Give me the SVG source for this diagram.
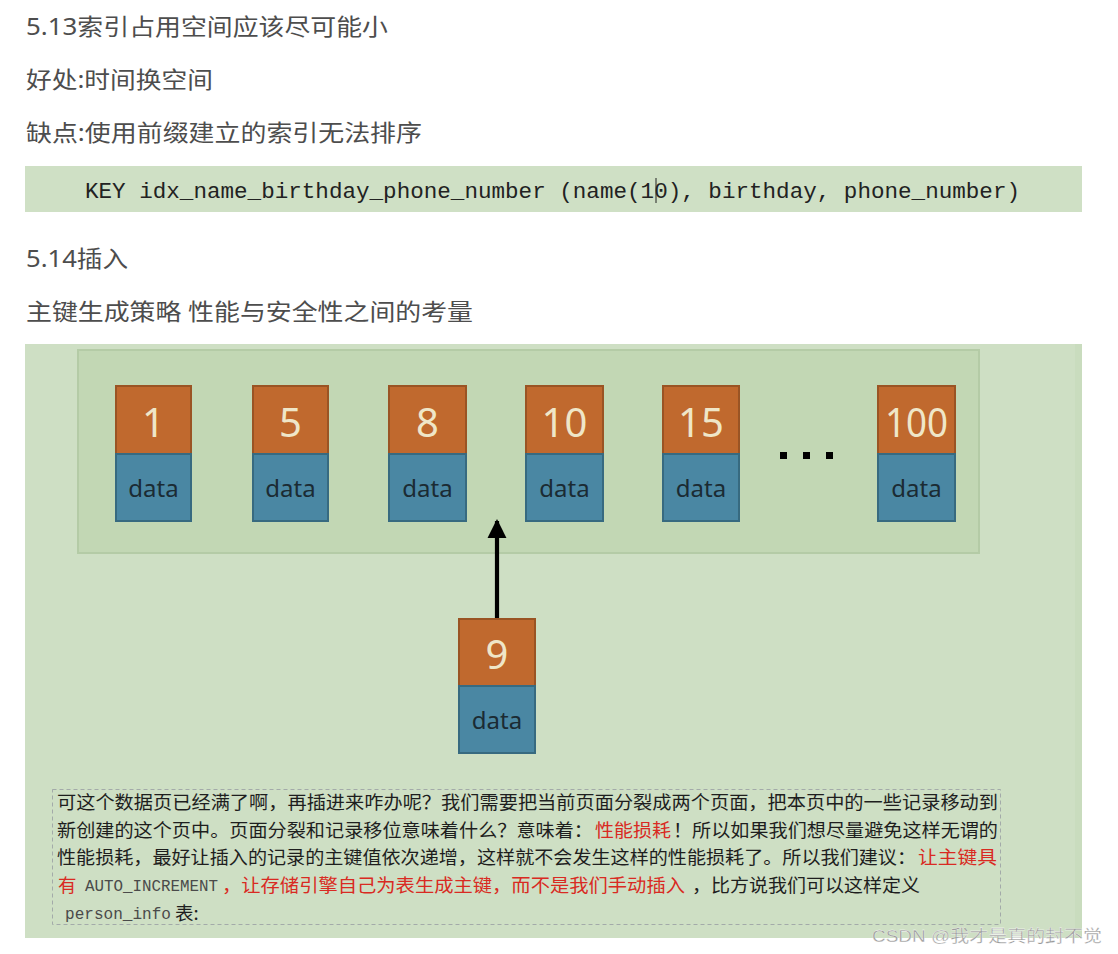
<svg xmlns="http://www.w3.org/2000/svg" width="1118" height="954" viewBox="0 0 1118 954">
<style>
.h{font-family:"Noto Sans","Noto Sans CJK SC",sans-serif;font-size:23px;fill:#4d4d4d}
.code{font-family:"Liberation Mono","Noto Sans CJK SC",monospace;font-size:22px;fill:#222}
.key{fill:#c0692e;stroke:#9a5424;stroke-width:2}
.val{fill:#4a87a3;stroke:#376a80;stroke-width:2}
.num{font-family:"Noto Sans",sans-serif;font-size:40px;fill:#efe6c8;text-anchor:middle}
.dt{font-family:"Noto Sans",sans-serif;font-size:24px;fill:#1b2b33;text-anchor:middle}
.t{font-family:"Noto Sans CJK SC","Noto Sans",sans-serif;font-size:18.5px;fill:#1e1e1e}
.r{fill:#d92a22}
.m{font-family:"Liberation Mono","Noto Sans CJK SC",monospace;font-size:17px;fill:#4a4a4a}
</style>
<defs>
<marker id="ah" viewBox="0 0 10 10" refX="9" refY="5" markerWidth="4.6" markerHeight="4.6" markerUnits="strokeWidth" orient="auto">
<path d="M0,0 L10,5 L0,10 Z" fill="#000"/>
</marker>
</defs>
<rect width="1118" height="954" fill="#ffffff"/>
<g id="headings">
<text class="h" x="26" y="35" textLength="362" lengthAdjust="spacingAndGlyphs">5.13索引占用空间应该尽可能小</text>
<text class="h" x="26" y="88" textLength="187" lengthAdjust="spacingAndGlyphs">好处:时间换空间</text>
<text class="h" x="26" y="141" textLength="396" lengthAdjust="spacingAndGlyphs">缺点:使用前缀建立的索引无法排序</text>
</g>
<g id="code-band">
<rect x="25" y="166" width="1057" height="46" fill="#cfe0c5"/>
<text class="code" x="85" y="198" textLength="935" lengthAdjust="spacingAndGlyphs">KEY idx_name_birthday_phone_number (name(10), birthday, phone_number)</text>
<line x1="656" y1="178" x2="656" y2="203" stroke="#222" stroke-width="1"/>
</g>
<g id="headings2">
<text class="h" x="26" y="267" textLength="102" lengthAdjust="spacingAndGlyphs">5.14插入</text>
<text class="h" x="26" y="320" textLength="447" lengthAdjust="spacingAndGlyphs">主键生成策略 性能与安全性之间的考量</text>
</g>
<g id="panel">
<rect x="25" y="344" width="1057" height="594" fill="#cedfc4"/>
<rect x="1075" y="344" width="7" height="594" fill="#c9dcbe"/>
<rect x="78" y="350" width="901" height="203" fill="#c2d7b4" stroke="#b4cba6" stroke-width="2"/>
</g>
<g id="rec-1">
<rect class="key" x="116" y="386" width="75" height="68"/><rect class="val" x="116" y="454" width="75" height="67"/>
<text class="num" x="153.5" y="437">1</text><text class="dt" x="153.5" y="497">data</text>
</g>
<g id="rec-5">
<rect class="key" x="253" y="386" width="75" height="68"/><rect class="val" x="253" y="454" width="75" height="67"/>
<text class="num" x="290.5" y="437">5</text><text class="dt" x="290.5" y="497">data</text>
</g>
<g id="rec-8">
<rect class="key" x="389" y="386" width="77" height="68"/><rect class="val" x="389" y="454" width="77" height="67"/>
<text class="num" x="427.5" y="437">8</text><text class="dt" x="427.5" y="497">data</text>
</g>
<g id="rec-10">
<rect class="key" x="526" y="386" width="77" height="68"/><rect class="val" x="526" y="454" width="77" height="67"/>
<text class="num" x="564.5" y="437">10</text><text class="dt" x="564.5" y="497">data</text>
</g>
<g id="rec-15">
<rect class="key" x="663" y="386" width="76" height="68"/><rect class="val" x="663" y="454" width="76" height="67"/>
<text class="num" x="701" y="437">15</text><text class="dt" x="701" y="497">data</text>
</g>
<g id="ellipsis">
<rect x="780" y="452" width="7" height="7" fill="#000"/>
<rect x="803" y="452" width="7" height="7" fill="#000"/>
<rect x="826" y="452" width="7" height="7" fill="#000"/>
</g>
<g id="rec-100">
<rect class="key" x="878" y="386" width="77" height="68"/><rect class="val" x="878" y="454" width="77" height="67"/>
<text class="num" x="916.5" y="437" textLength="63" lengthAdjust="spacingAndGlyphs">100</text><text class="dt" x="916.5" y="497">data</text>
</g>
<g id="rec-9">
<rect class="key" x="459" y="619" width="76" height="67"/><rect class="val" x="459" y="686" width="76" height="67"/>
<text class="num" x="497" y="669">9</text><text class="dt" x="497" y="729">data</text>
</g>
<g id="connectors">
<line x1="497" y1="618" x2="497" y2="521" stroke="#000" stroke-width="4.2" marker-end="url(#ah)"/>
</g>
<g id="note">
<rect x="52.5" y="789.5" width="948" height="135" fill="none" stroke="#a3aaa9" stroke-width="1" stroke-dasharray="4,3"/>
<text class="t" x="57" y="809" textLength="941" lengthAdjust="spacingAndGlyphs">可这个数据页已经满了啊，再插进来咋办呢？我们需要把当前页面分裂成两个页面，把本页中的一些记录移动到</text>
<text class="t" x="57" y="837" textLength="536" lengthAdjust="spacingAndGlyphs">新创建的这个页中。页面分裂和记录移位意味着什么？意味着：</text>
<text class="t r" x="595" y="837" textLength="76" lengthAdjust="spacingAndGlyphs">性能损耗</text>
<text class="t" x="673" y="837" textLength="325" lengthAdjust="spacingAndGlyphs">！所以如果我们想尽量避免这样无谓的</text>
<text class="t" x="57" y="864" textLength="859" lengthAdjust="spacingAndGlyphs">性能损耗，最好让插入的记录的主键值依次递增，这样就不会发生这样的性能损耗了。所以我们建议：</text>
<text class="t r" x="918" y="864" textLength="79" lengthAdjust="spacingAndGlyphs">让主键具</text>
<text class="t r" x="58" y="892">有</text>
<text class="m" x="85" y="891" textLength="133" lengthAdjust="spacingAndGlyphs">AUTO_INCREMENT</text>
<text class="t r" x="222" y="892" textLength="463" lengthAdjust="spacingAndGlyphs">，让存储引擎自己为表生成主键，而不是我们手动插入</text>
<text class="t" x="692" y="892" textLength="228" lengthAdjust="spacingAndGlyphs">，比方说我们可以这样定义</text>
<text class="m" x="65" y="919" textLength="106" lengthAdjust="spacingAndGlyphs">person_info</text>
<text class="t" x="175" y="920">表:</text>
</g>
<g id="watermark">
<text x="872" y="942" font-family="Liberation Sans,'Noto Sans CJK SC',sans-serif" font-size="17" fill="#9b9b9b" stroke="#ffffff" stroke-width="0.3" textLength="230" lengthAdjust="spacingAndGlyphs">CSDN @我才是真的封不觉</text>
</g>
</svg>
